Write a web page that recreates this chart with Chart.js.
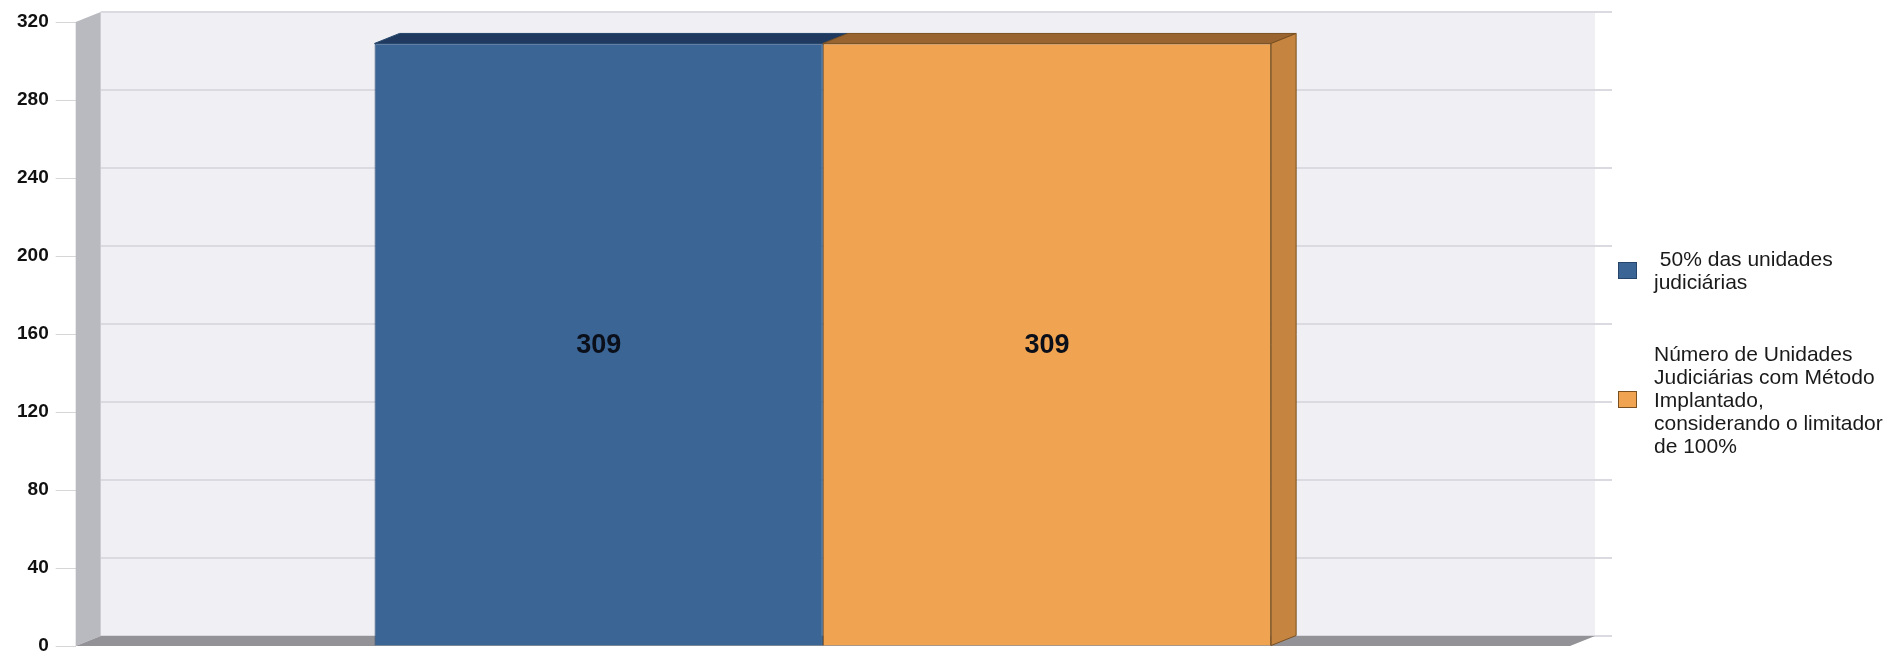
<!DOCTYPE html>
<html>
<head>
<meta charset="utf-8">
<script src="https://cdn.jsdelivr.net/npm/chart.js@4.4.1/dist/chart.umd.min.js"></script>
<style>
  body { margin: 0; background: #fff; }
  #wrap { position: relative; width: 1885px; height: 655px; }
  .legend-item { position: absolute; left: 1618px; display: flex; align-items: center; }
  .legend-box { width: 17px; height: 15px; margin-right: 17px; flex: none; }
  .legend-text { width: 235px; font: 21px "Liberation Sans", Arial, sans-serif; line-height: 23px; color: #1a1a1a; white-space: pre-wrap; }
</style>
</head>
<body>
<div id="wrap">
  <canvas id="chart" width="1885" height="655"></canvas>
</div>
<script>
const categories = [''];
const seriesLabels = [' 50% das unidades judiciárias', 'Número de Unidades Judiciárias com Método Implantado, considerando o limitador de 100%'];
const metaValues = [309];
const implantadoValues = [309];
const yMin = 0, yMax = 320, yStep = 40;

const frontColors = ['#3a6595', '#f0a350'];
const borderColors = ['#25456b', '#7a5020'];
const topColors = ['#1f3a5e', '#9a6431'];
const sideColors = ['#2c4e78', '#c5843f'];
const legendTops = [247, 342];

// fake 3d walls, floor, bar tops/sides and value labels
const depth = { dx: 25, dy: -10 };
const depthPlugin = {
    id: 'depth3d',
    beforeDatasetsDraw(chart) {
        const { ctx, chartArea: a, scales: { y } } = chart;
        const { dx, dy } = depth;
        ctx.save();
        // back wall
        ctx.fillStyle = '#efeff4';
        ctx.fillRect(a.left + dx, a.top + dy, a.right - a.left, a.bottom - a.top);
        // grid on the back wall
        ctx.strokeStyle = '#dadae0';
        ctx.lineWidth = 2;
        y.ticks.forEach(t => {
            const py = Math.round(y.getPixelForValue(t.value) + dy);
            ctx.beginPath();
            ctx.moveTo(a.left + dx, py);
            ctx.lineTo(a.right + dx + 17, py);
            ctx.stroke();
        });
        // left side wall
        ctx.fillStyle = '#b9b9c0';
        ctx.beginPath();
        ctx.moveTo(a.left, a.top);
        ctx.lineTo(a.left + dx, a.top + dy);
        ctx.lineTo(a.left + dx, a.bottom + dy);
        ctx.lineTo(a.left, a.bottom);
        ctx.closePath();
        ctx.fill();
        // floor
        ctx.fillStyle = '#939397';
        ctx.beginPath();
        ctx.moveTo(a.left, a.bottom);
        ctx.lineTo(a.left + dx, a.bottom + dy);
        ctx.lineTo(a.right + dx, a.bottom + dy);
        ctx.lineTo(a.right, a.bottom);
        ctx.closePath();
        ctx.fill();
        ctx.restore();
    },
    afterDatasetsDraw(chart) {
        const { ctx } = chart;
        const { dx, dy } = depth;
        const n = chart.data.datasets.length;
        ctx.save();
        chart.data.datasets.forEach((ds, i) => {
            chart.getDatasetMeta(i).data.forEach(bar => {
                const l = bar.x - bar.width / 2, r = bar.x + bar.width / 2;
                // top face
                ctx.fillStyle = topColors[i];
                ctx.strokeStyle = borderColors[i];
                ctx.lineWidth = 1;
                ctx.beginPath();
                ctx.moveTo(l, bar.y);
                ctx.lineTo(l + dx, bar.y + dy);
                ctx.lineTo(r + dx, bar.y + dy);
                ctx.lineTo(r, bar.y);
                ctx.closePath();
                ctx.fill();
                ctx.stroke();
                // right side face only for the last bar
                if (i === n - 1) {
                    ctx.fillStyle = sideColors[i];
                    ctx.beginPath();
                    ctx.moveTo(r, bar.y);
                    ctx.lineTo(r + dx, bar.y + dy);
                    ctx.lineTo(r + dx, bar.base + dy);
                    ctx.lineTo(r, bar.base);
                    ctx.closePath();
                    ctx.fill();
                    ctx.stroke();
                }
            });
        });
        // value labels
        ctx.fillStyle = '#0b0f1a';
        ctx.font = 'bold 27px "Liberation Sans", Arial, sans-serif';
        ctx.textAlign = 'center';
        ctx.textBaseline = 'middle';
        chart.data.datasets.forEach((ds, i) => {
            chart.getDatasetMeta(i).data.forEach((bar, j) => {
                ctx.fillText(String(ds.data[j]), bar.x, (bar.y + bar.base) / 2 + 1);
            });
        });
        ctx.restore();
    }
};

const chart = new Chart(document.getElementById('chart').getContext('2d'), {
    type: 'bar',
    data: {
        labels: categories,
        datasets: [
            {
                label: seriesLabels[0],
                data: metaValues,
                backgroundColor: frontColors[0],
                borderColor: borderColors[0],
                borderWidth: 1
            },
            {
                label: seriesLabels[1],
                data: implantadoValues,
                backgroundColor: frontColors[1],
                borderColor: borderColors[1],
                borderWidth: 1
            }
        ]
    },
    options: {
        responsive: false,
        animation: false,
        layout: { padding: { left: 10, top: 22, bottom: 9, right: 315 } },
        datasets: { bar: { categoryPercentage: 0.6, barPercentage: 1.0 } },
        scales: {
            x: { display: false },
            y: {
                min: yMin,
                max: yMax,
                border: { display: false },
                grid: { drawOnChartArea: false, drawTicks: true, tickLength: 20, color: '#d6d6d6' },
                ticks: {
                    stepSize: yStep,
                    padding: 7,
                    color: '#111',
                    font: { family: '"Liberation Sans", Arial, sans-serif', size: 19, weight: 'bold', lineHeight: 0.1 }
                }
            }
        },
        plugins: {
            legend: { display: false },
            tooltip: { enabled: false }
        }
    },
    plugins: [depthPlugin]
});

// legend as html so the long labels wrap like the original
const wrap = document.getElementById('wrap');
chart.data.datasets.forEach((ds, i) => {
    const item = document.createElement('div');
    item.className = 'legend-item';
    item.style.top = legendTops[i] + 'px';
    const box = document.createElement('div');
    box.className = 'legend-box';
    box.style.background = ds.backgroundColor;
    box.style.border = '1px solid ' + ds.borderColor;
    const text = document.createElement('div');
    text.className = 'legend-text';
    text.textContent = ds.label;
    item.appendChild(box);
    item.appendChild(text);
    wrap.appendChild(item);
});
</script>
</body>
</html>
